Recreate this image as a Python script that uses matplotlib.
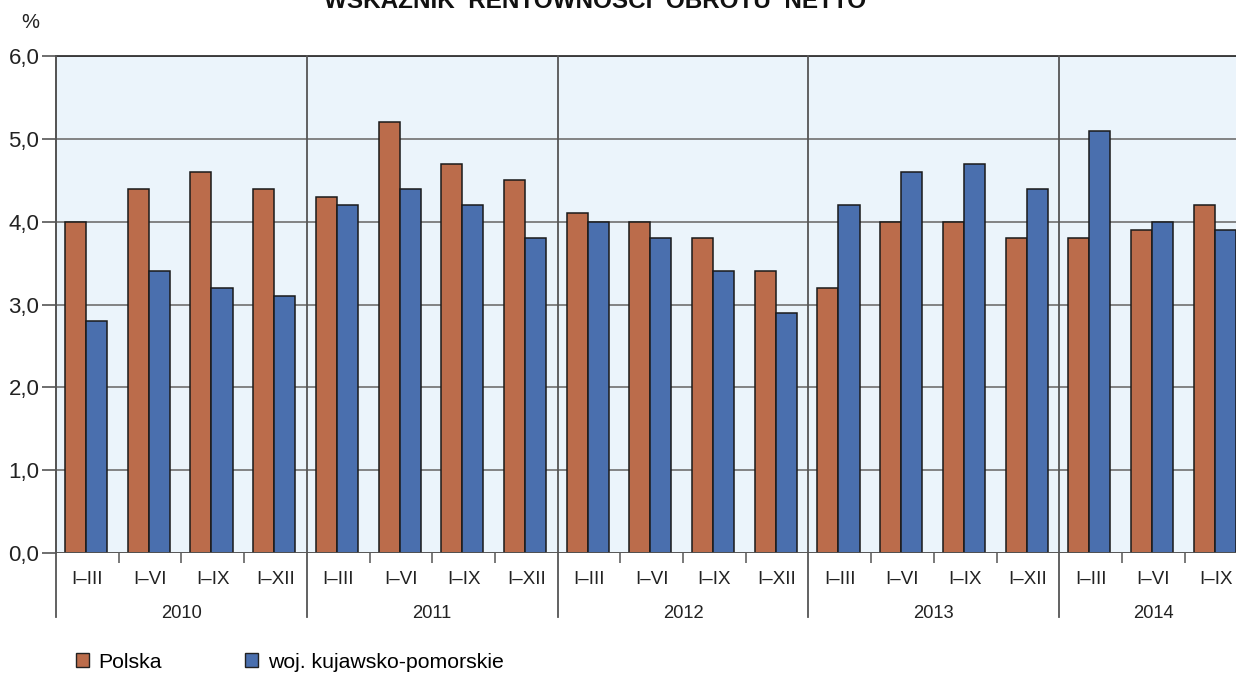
import matplotlib
matplotlib.use("Agg")
import matplotlib.pyplot as plt
import matplotlib.transforms as mtransforms
from matplotlib.patches import Patch
import numpy as np

plt.rcParams['font.family'] = ['Liberation Sans', 'DejaVu Sans']

years = ["2010", "2011", "2012", "2013", "2014"]
periods = ["I–III", "I–VI", "I–IX", "I–XII"]
categories = [p for y in years[:-1] for p in periods] + periods[:3]
category_years = [y for y in years[:-1] for _ in periods] + ["2014"] * 3
polska = [4.0, 4.4, 4.6, 4.4,
          4.3, 5.2, 4.7, 4.5,
          4.1, 4.0, 3.8, 3.4,
          3.2, 4.0, 4.0, 3.8,
          3.8, 3.9, 4.2]
kujawsko = [2.8, 3.4, 3.2, 3.1,
            4.2, 4.4, 4.2, 3.8,
            4.0, 3.8, 3.4, 2.9,
            4.2, 4.6, 4.7, 4.4,
            5.1, 4.0, 3.9]
series_names = ["Polska", "woj. kujawsko-pomorskie"]
colors = ["#BB6C4B", "#4A6FAE"]
title = "WSKAŹNIK  RENTOWNOŚCI  OBROTU  NETTO"

W, H = 1236, 673
fig = plt.figure(figsize=(W / 100, H / 100), dpi=100)
ax = fig.add_axes([56 / W, 1 - 553 / H, 1 - 56 / W, (553 - 56) / H])
ax.set_facecolor("#EBF4FB")

x = np.arange(len(categories))
bw = 0.335
ax.bar(x - bw / 2 - 0.02, polska, width=bw, color=colors[0], edgecolor="#1A1A1A", linewidth=1.1, zorder=3)
ax.bar(x + bw / 2 - 0.02, kujawsko, width=bw, color=colors[1], edgecolor="#1A1A1A", linewidth=1.1, zorder=3)

ax.set_yticks(np.arange(0, 6.01, 1.0))
ax.set_yticklabels([f"{v:.1f}".replace(".", ",") for v in np.arange(0, 6.01, 1.0)], fontsize=16, color="#222222")
ax.yaxis.grid(True, color="#7A7A7A", linewidth=1.3, zorder=1)
ax.tick_params(axis="y", length=10, width=1.2, color="#555555", pad=2)

for s in ["right", "bottom"]:
    ax.spines[s].set_visible(False)
ax.spines["top"].set_color("#333333")
ax.spines["top"].set_linewidth(1.3)
ax.spines["left"].set_color("#555555")
ax.spines["left"].set_linewidth(1.3)
ax.axhline(0, color="#555555", linewidth=1.3, zorder=4)

# category boundary ticks
bounds = [b for b in np.arange(len(categories)) + 0.5 if (b + 0.5) % 4 != 0]
ax.set_xticks(bounds)
ax.set_xticklabels([""] * len(bounds))
ax.tick_params(axis="x", length=7.5, width=1.1, color="#555555")

ax.set_ylim(0, 6)
ax.set_xlim(-0.5, (W - 56) / 62.7 - 0.5)

trans = mtransforms.blended_transform_factory(ax.transData, ax.transAxes)
ext = (617 - 553) / (553 - 56)
# year separators
year_bounds = [-0.5] + [4 * k - 0.5 for k in range(1, 5)]
for b in year_bounds:
    ax.plot([b, b], [1, -ext], transform=trans, color="#555555", linewidth=1.3, clip_on=False, zorder=5)

for xi, lab in zip(x, categories):
    ax.text(xi, -26 / 497, lab, transform=trans, ha="center", va="center", fontsize=13.5, color="#222222")

for k, y in enumerate(years):
    idx = [i for i, cy in enumerate(category_years) if cy == y]
    if y == "2014":
        xc = 17.0
    else:
        xc = (idx[0] + idx[-1]) / 2
    ax.text(xc, -60 / 497, y, transform=trans, ha="center", va="center", fontsize=13.2, color="#222222")

fig.text(30 / W, 1 - 23 / H, "%", ha="center", va="center", fontsize=14.5, color="#222222")
fig.text(595 / W, 1 - 1 / H, title, ha="center", va="center", fontsize=17.5, fontweight="bold", color="#111111")

handles = [Patch(facecolor=c, edgecolor="#222222", linewidth=1.0) for c in colors]
fig.legend(handles, series_names, loc="center left", bbox_to_anchor=(76 / W, 1 - 662 / H), ncol=2,
           frameon=False, fontsize=15.3, handlelength=0.62, handleheight=0.62, handletextpad=0.45,
           columnspacing=3.9, borderpad=0, borderaxespad=0)

fig.savefig("out.png", dpi=100)
